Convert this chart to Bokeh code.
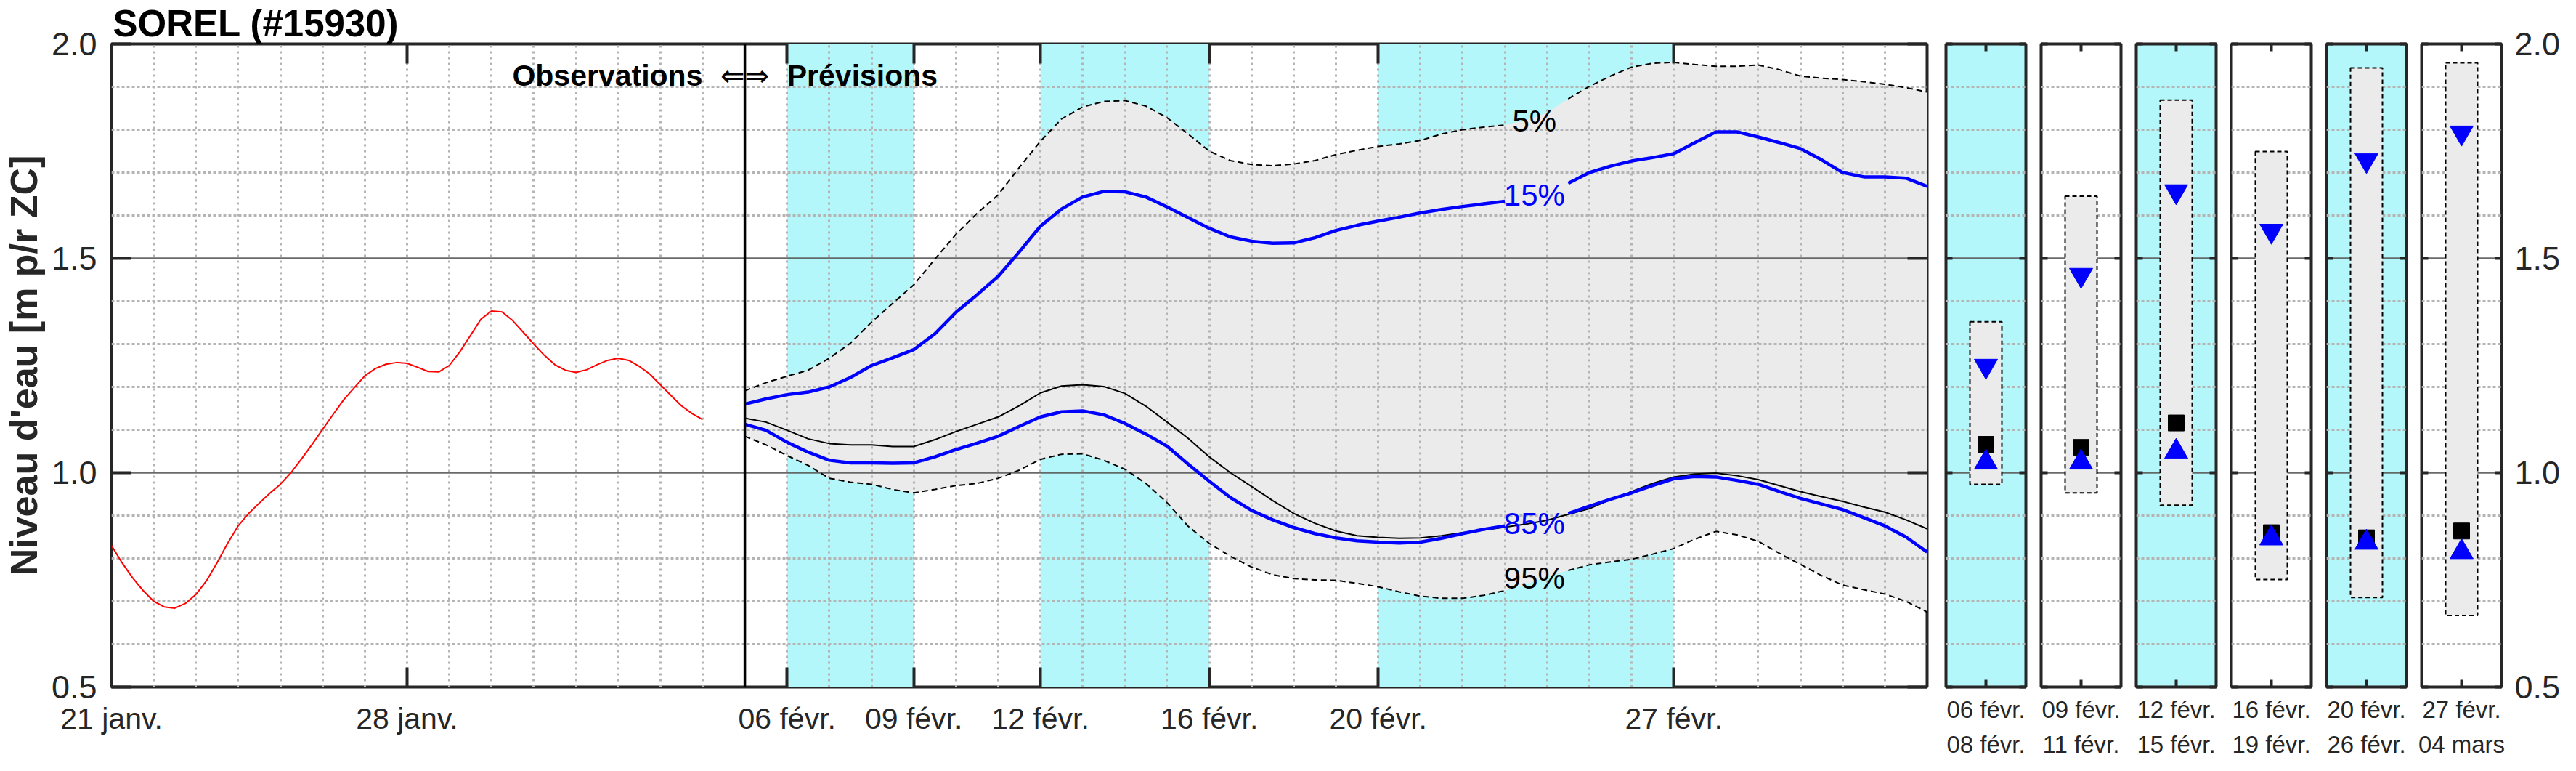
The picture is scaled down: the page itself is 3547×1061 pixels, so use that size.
import math
from bokeh.plotting import figure
from bokeh.layouts import row
from bokeh.models import Range1d, FixedTicker, LinearAxis, Grid, Span, Label
from bokeh.embed import file_html
from bokeh.resources import INLINE

NAN = float("nan")

# ---------------- data (x = days since 21 janv.) ----------------
obs_day = [0, 0.25, 0.5, 0.75, 1, 1.25, 1.5, 1.75, 2, 2.25, 2.5, 2.75, 3, 3.25, 3.5, 3.75,
           4, 4.25, 4.5, 4.75, 5, 5.25, 5.5, 5.75, 6, 6.25, 6.5, 6.75, 7, 7.25, 7.5, 7.75,
           8, 8.25, 8.5, 8.75, 9, 9.25, 9.5, 9.75, 10, 10.25, 10.5, 10.75, 11, 11.25, 11.5,
           11.75, 12, 12.25, 12.5, 12.75, 13, 13.25, 13.5, 13.75, 14]
obs_level = [0.830, 0.790, 0.755, 0.725, 0.700, 0.687, 0.684, 0.695, 0.716, 0.748, 0.790,
             0.835, 0.876, 0.905, 0.929, 0.952, 0.973, 1.000, 1.032, 1.066, 1.101, 1.136,
             1.170, 1.198, 1.226, 1.243, 1.253, 1.257, 1.255, 1.246, 1.236, 1.235, 1.250,
             1.282, 1.320, 1.358, 1.377, 1.375, 1.355, 1.328, 1.300, 1.274, 1.252, 1.239,
             1.234, 1.240, 1.252, 1.262, 1.267, 1.262, 1.248, 1.230, 1.205, 1.180, 1.156,
             1.138, 1.124]

fc_day = [15, 15.5, 16, 16.5, 17, 17.5, 18, 18.5, 19, 19.5, 20, 20.5, 21, 21.5, 22, 22.5,
          23, 23.5, 24, 24.5, 25, 25.5, 26, 26.5, 27, 27.5, 28, 28.5, 29, 29.5, 30, 30.5,
          31, 31.5, 32, 32.5, 33, 33.5, 34, 34.5, 35, 35.5, 36, 36.5, 37, 37.5, 38, 38.5,
          39, 39.5, 40, 40.5, 41, 41.5, 42, 42.5, 43]
p05 = [1.191, 1.210, 1.225, 1.239, 1.267, 1.302, 1.351, 1.395, 1.438, 1.498, 1.556, 1.605,
       1.648, 1.712, 1.773, 1.825, 1.853, 1.866, 1.868, 1.855, 1.828, 1.790, 1.750, 1.728,
       1.719, 1.716, 1.720, 1.728, 1.742, 1.752, 1.761, 1.767, 1.775, 1.790, 1.800, 1.806,
       1.811, 1.822, 1.840, 1.872, 1.901, 1.925, 1.946, 1.955, 1.957, 1.952, 1.948, 1.948,
       1.951, 1.940, 1.925, 1.920, 1.917, 1.912, 1.906, 1.898, 1.888]
p15 = [1.160, 1.172, 1.182, 1.188, 1.200, 1.222, 1.250, 1.268, 1.287, 1.324, 1.374, 1.415,
       1.458, 1.515, 1.575, 1.615, 1.643, 1.656, 1.655, 1.643, 1.620, 1.595, 1.570, 1.550,
       1.540, 1.535, 1.536, 1.548, 1.565, 1.577, 1.587, 1.596, 1.606, 1.614, 1.621, 1.627,
       1.633, 1.645, 1.660, 1.675, 1.700, 1.715, 1.727, 1.735, 1.744, 1.770, 1.795, 1.795,
       1.783, 1.770, 1.756, 1.730, 1.700, 1.690, 1.690, 1.687, 1.668]
p50 = [1.127, 1.118, 1.099, 1.079, 1.068, 1.065, 1.065, 1.061, 1.061, 1.077, 1.096, 1.113,
       1.130, 1.156, 1.186, 1.202, 1.205, 1.201, 1.185, 1.155, 1.118, 1.080, 1.037, 1.000,
       0.968, 0.935, 0.905, 0.882, 0.864, 0.853, 0.849, 0.847, 0.848, 0.853, 0.860, 0.866,
       0.873, 0.880, 0.889, 0.903, 0.916, 0.937, 0.956, 0.975, 0.990, 0.997, 0.999, 0.993,
       0.984, 0.970, 0.956, 0.944, 0.933, 0.920, 0.908, 0.890, 0.869]
p85 = [1.113, 1.099, 1.071, 1.048, 1.029, 1.023, 1.023, 1.022, 1.023, 1.037, 1.054, 1.069,
       1.085, 1.108, 1.130, 1.142, 1.144, 1.135, 1.115, 1.090, 1.062, 1.020, 0.980, 0.942,
       0.912, 0.890, 0.872, 0.858, 0.848, 0.841, 0.838, 0.836, 0.838, 0.847, 0.858, 0.868,
       0.876, 0.884, 0.893, 0.905, 0.922, 0.938, 0.953, 0.970, 0.986, 0.991, 0.990, 0.982,
       0.973, 0.956, 0.940, 0.927, 0.914, 0.895, 0.876, 0.850, 0.815]
p95 = [1.085, 1.065, 1.040, 1.017, 0.987, 0.978, 0.973, 0.961, 0.953, 0.961, 0.970, 0.975,
       0.987, 1.006, 1.031, 1.043, 1.044, 1.029, 1.008, 0.975, 0.930, 0.875, 0.835, 0.805,
       0.780, 0.762, 0.753, 0.750, 0.749, 0.742, 0.734, 0.722, 0.712, 0.707, 0.707, 0.714,
       0.725, 0.740, 0.757, 0.772, 0.785, 0.792, 0.798, 0.810, 0.823, 0.845, 0.863, 0.855,
       0.840, 0.812, 0.786, 0.760, 0.738, 0.727, 0.717, 0.700, 0.675]

band_start = [16, 22, 30]   # 06 févr., 12 févr., 20 févr.
band_end = [19, 26, 37]     # 09 févr., 16 févr., 27 févr.
obs_end_day = 15            # Observations <=> Prévisions

x_ticks = [0, 7, 16, 19, 22, 26, 30, 37]
x_tick_labels = ["21 janv.", "28 janv.", "06 févr.", "09 févr.", "12 févr.",
                 "16 févr.", "20 févr.", "27 févr."]
y_ticks = [0.5, 1.0, 1.5, 2.0]
y_tick_labels = ["0.5", "1.0", "1.5", "2.0"]
y_minor = [0.6, 0.7, 0.8, 0.9, 1.1, 1.2, 1.3, 1.4, 1.6, 1.7, 1.8, 1.9]

title_text = "SOREL (#15930)"
y_title = "Niveau d'eau [m p/r ZC]"

pct_names = ["5%", "15%", "85%", "95%"]
pct_label_day = 33.7
pct_label_level = [1.82, 1.648, 0.882, 0.754]

panel_start = ["06 févr.", "09 févr.", "12 févr.", "16 févr.", "20 févr.", "27 févr."]
panel_end = ["08 févr.", "11 févr.", "15 févr.", "19 févr.", "26 févr.", "04 mars"]
panel_cyan = [True, False, True, False, True, False]
panel_p05 = [1.352, 1.645, 1.869, 1.749, 1.944, 1.956]
panel_p15 = [1.249, 1.461, 1.656, 1.564, 1.729, 1.793]
panel_p50 = [1.066, 1.059, 1.116, 0.860, 0.848, 0.864]
panel_p85 = [1.024, 1.024, 1.049, 0.847, 0.837, 0.815]
panel_p95 = [0.973, 0.953, 0.924, 0.751, 0.709, 0.667]

# ---------------- style ----------------
CYAN = "#b3f7fa"
FILLG = "#ebebeb"
AX = "#262626"
GRIDC = "#b4b4b4"
MAJG = "#5a5a5a"
FONT = "Liberation Sans"
H = 1045
TOP, BOT = 60, 94

label_gap = [(d > 33.0) and (d < 34.5) for d in fc_day]


def gapped(vals):
    return [NAN if g else v for v, g in zip(vals, label_gap)]


def style_axis(ax, ticks, tick_len, font_size=None, standoff=0, overrides=None):
    ax.ticker = FixedTicker(ticks=ticks, minor_ticks=[])
    ax.major_tick_in = tick_len
    ax.major_tick_out = 0
    ax.minor_tick_in = 0
    ax.minor_tick_out = 0
    ax.major_tick_line_color = AX if tick_len > 0 else None
    ax.major_tick_line_width = 4
    ax.axis_line_color = None
    ax.major_label_text_font = FONT
    ax.major_label_standoff = standoff
    ax.major_label_text_line_height = 1.0
    ax.axis_label_text_line_height = 1.0
    if font_size is None:
        # ticks only, no tick labels
        ax.major_label_text_font_size = "0px"
        ax.major_label_text_color = None
    else:
        ax.major_label_text_font_size = font_size
        ax.major_label_text_color = AX
    if overrides:
        ax.major_label_overrides = overrides


def add_grid(fig, dim, ticks, color, width, dash, alpha=1.0):
    g = Grid(dimension=dim, ticker=FixedTicker(ticks=ticks), grid_line_color=color,
             grid_line_width=width, grid_line_dash=dash, grid_line_alpha=alpha,
             level="underlay")
    fig.add_layout(g)


def base_fig(width, xr, left, right, bg="white"):
    f = figure(width=width, height=H, x_range=xr, y_range=Range1d(0.5, 2.0),
               output_backend="svg", toolbar_location=None,
               min_border_left=left, min_border_right=right,
               min_border_top=TOP, min_border_bottom=BOT,
               background_fill_color=bg, border_fill_color="white")
    f.xgrid.visible = False
    f.ygrid.visible = False
    f.outline_line_color = AX
    f.outline_line_width = 4
    return f


# ---------------- main chart ----------------
p = base_fig(2663, Range1d(0, 43), 148, 10)

p.title.text = title_text
p.title.text_font = FONT
p.title.text_font_style = "bold"
p.title.text_font_size = "51px"
p.title.text_color = "black"
p.title.standoff = 0
p.title.offset = 2
p.title.align = "left"

p.quad(left=band_start, right=band_end, bottom=0.5, top=2.0, fill_color=CYAN,
       line_color=None, level="image")
p.varea(x=fc_day, y1=p95, y2=p05, fill_color=FILLG, level="image")

add_grid(p, 0, list(range(1, 43)), GRIDC, 3, "3 5")
add_grid(p, 1, y_minor, GRIDC, 3, "4 3")
add_grid(p, 1, [1.0, 1.5], MAJG, 2.5, "solid", 0.9)

p.line(obs_day, obs_level, line_color="#ff0000", line_width=2)
p.line(fc_day, gapped(p05), line_color="black", line_width=2, line_dash="8 5")
p.line(fc_day, gapped(p95), line_color="black", line_width=2, line_dash="8 5")
p.line(fc_day, p50, line_color="black", line_width=2)
p.line(fc_day, gapped(p15), line_color="#0000ff", line_width=4.5)
p.line(fc_day, gapped(p85), line_color="#0000ff", line_width=4.5)

p.add_layout(Span(location=obs_end_day, dimension="height", line_color="black",
                  line_width=3.5))

pct_colors = ["black", "#0000ff", "#0000ff", "black"]
for name, lvl, col in zip(pct_names, pct_label_level, pct_colors):
    p.add_layout(Label(x=pct_label_day, y=lvl, text=name, text_align="center",
                       text_baseline="middle", text_font=FONT, text_font_size="42px",
                       text_color=col))

xa = p.xaxis[0]
style_axis(xa, x_ticks, 27, "41px", 20, dict(zip(x_ticks, x_tick_labels)))
ya = p.yaxis[0]
style_axis(ya, y_ticks, 27, "45px", 20, dict(zip(y_ticks, y_tick_labels)))
ya.axis_label = y_title
ya.axis_label_text_font = FONT
ya.axis_label_text_font_style = "bold"
ya.axis_label_text_font_size = "52px"
ya.axis_label_text_color = AX
ya.axis_label_standoff = 6
top_ax = LinearAxis()
style_axis(top_ax, x_ticks, 27)
p.add_layout(top_ax, "above")
right_ax = LinearAxis()
style_axis(right_ax, y_ticks, 27)
p.add_layout(right_ax, "right")

p.add_layout(Label(x=obs_end_day - 1, y=1.926, text="Observations", text_font=FONT,
                   text_font_style="bold", text_font_size="41px", text_align="right",
                   text_baseline="alphabetic", text_color="black"))
p.add_layout(Label(x=obs_end_day, y=1.926, text="\u21d0\u21d2", text_font="DejaVu Sans",
                   text_font_size="40px", text_align="center",
                   text_baseline="alphabetic", text_color="black"))
p.add_layout(Label(x=obs_end_day + 1, y=1.926, text="Prévisions", text_font=FONT,
                   text_font_style="bold", text_font_size="41px", text_align="left",
                   text_baseline="alphabetic", text_color="black"))

# ---------------- summary panels ----------------
panels = []
for i in range(6):
    last = i == 5
    q = base_fig(213 if last else 131, Range1d(0, 1), 16, 87 if last else 5,
                 bg=CYAN if panel_cyan[i] else "white")
    add_grid(q, 1, y_minor, GRIDC, 3, "4 3")
    add_grid(q, 1, [1.0, 1.5], MAJG, 2.5, "solid", 0.9)
    q.quad(left=0.3, right=0.7, bottom=panel_p95[i], top=panel_p05[i], fill_color=FILLG,
           line_color="black", line_width=2, line_dash="6 4")
    q.scatter([0.5], [panel_p50[i]], marker="square", size=22, color="black")
    q.scatter([0.5], [panel_p15[i]], marker="inverted_triangle", size=32, color="#0000ff")
    q.scatter([0.5], [panel_p85[i]], marker="triangle", size=32, color="#0000ff")

    bx = q.xaxis[0]
    style_axis(bx, [0.5], 10, "33px", 12, {0.5: panel_start[i]})
    bx2 = LinearAxis()
    style_axis(bx2, [0.5], 0, "33px", 8, {0.5: panel_end[i]})
    q.add_layout(bx2, "below")
    tx = LinearAxis()
    style_axis(tx, [0.5], 10)
    q.add_layout(tx, "above")
    ly = q.yaxis[0]
    style_axis(ly, y_ticks, 9)
    ry = LinearAxis()
    if last:
        style_axis(ry, y_ticks, 9, "45px", 18, dict(zip(y_ticks, y_tick_labels)))
    else:
        style_axis(ry, y_ticks, 9)
    q.add_layout(ry, "right")
    panels.append(q)

layout = row([p] + panels, spacing=0)
open("out.html", "w").write(file_html(layout, INLINE))
